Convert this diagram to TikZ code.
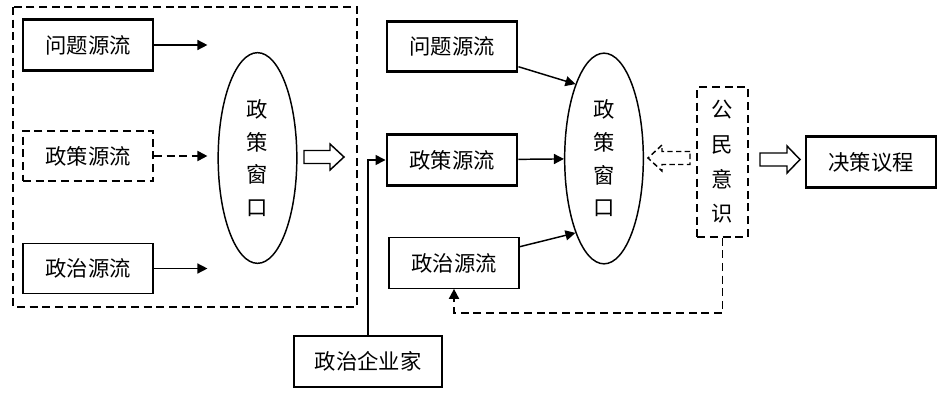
\documentclass[tikz,border=0pt]{standalone}
\usepackage{fontspec}
\newfontfamily\cjk{Noto Sans CJK SC}
\usetikzlibrary{arrows.meta}
\usetikzlibrary{shapes.geometric}

\begin{document}
\begin{tikzpicture}[x=0.75pt,y=-0.75pt,
 >={Triangle[length=7.5pt,width=7.5pt]},
 box/.style={draw, minimum width=97.5pt, minimum height=38pt, inner sep=0pt, font=\cjk\fontsize{16}{18}\selectfont},
 dashbox/.style={line width=1.4pt, dash pattern=on 6pt off 3.5pt},
 win/.style={ellipse, draw, line width=1.1pt, inner sep=0pt, minimum width=59pt, minimum height=158pt, align=center, font=\cjk\fontsize{16}{24.5}\selectfont},
 hollow/.style={draw, line width=1.1pt, line join=miter},
 flow/.style={->, line width=1.1pt}]
\useasboundingbox (0,0) rectangle (948,400);

% three streams, first stage
\draw[dashbox] (13,7) rectangle (357,307);
\node[box, line width=2.2pt] (p1) at (88,45) {问题源流};
\node[box, dashbox] (s1) at (88,156) {政策源流};
\node[box, line width=0.8pt] (z1) at (88,268.5) {政治源流};
\node[win] (w1) at (257.5,158) {政\\策\\窗\\口};
\foreach \n in {p1,z1} {
 \draw[flow] (\n) -- ([xshift=-7.5pt]w1.west |- \n);
}
\draw[flow, dashbox] (s1) -- ([xshift=-7.5pt]w1.west |- s1);
\draw[hollow] (304,150.5) -- (330,150.5) -- (330,144) -- (344,157) -- (330,170) -- (330,163.5) -- (304,163.5) -- cycle;

% second stage
\node[box, line width=2.2pt] (p2) at (452,46.5) {问题源流};
\node[box, line width=2.2pt] (s2) at (452,160) {政策源流};
\node[box, line width=0.8pt] (z2) at (454,263) {政治源流};
\node[win] (w2) at (604,158.5) {政\\策\\窗\\口};
\draw[flow] (p2) -- (w2.111);
\draw[flow] (s2) -- (w2);
\draw[flow] (z2) -- (w2.249);

\node[box, line width=1.6pt, minimum width=111pt] (e) at (368,361.5) {政治企业家};
\draw[flow] (e.north) |- (s2.west);

\node[draw, dashbox, minimum width=38pt, minimum height=112pt, inner sep=0pt, align=center,
 font=\cjk\fontsize{16}{26}\selectfont] (c) at (722.5,162) {公\\民\\意\\识};
\draw[hollow, dashbox, line width=1.1pt, dash pattern=on 4pt off 2.5pt] (690,151.5) -- (662,151.5) -- (662,145) -- (648,158) -- (662,171) -- (662,164.5) -- (690,164.5) -- cycle;
\coordinate (cb) at (722.5,313);
\draw[flow, dashbox] (c.south) -- (cb) -| (z2.south);

\draw[hollow] (760,153) -- (787,153) -- (787,146) -- (800,159.5) -- (787,173) -- (787,166) -- (760,166) -- cycle;
\node[box, line width=1.8pt] (d) at (871,162) {决策议程};
\end{tikzpicture}
\end{document}
